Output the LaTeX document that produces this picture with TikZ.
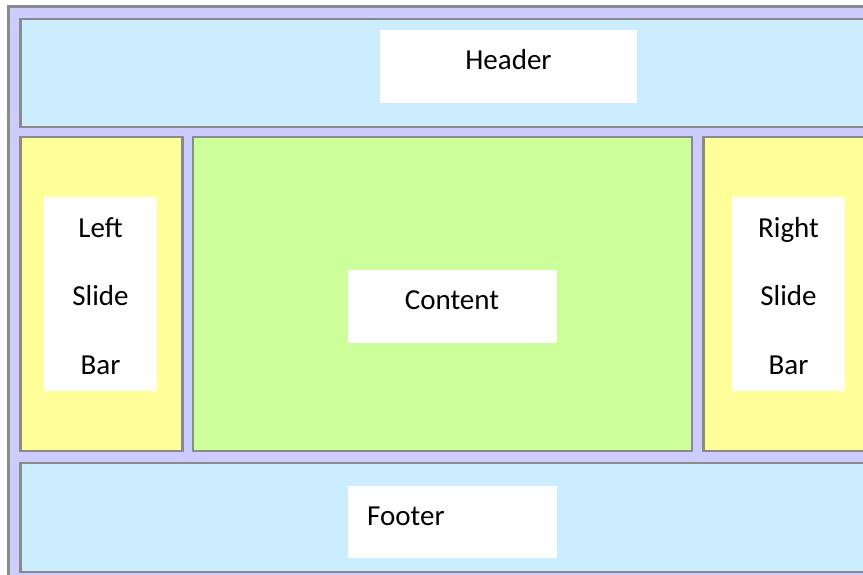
\documentclass[tikz,border=0pt]{standalone}
\usepackage{fontspec}
\setmainfont{Carlito}
\usepackage{tikz}
\usetikzlibrary{positioning}
\pgfdeclarelayer{edgelayer}
\pgfdeclarelayer{nodelayer}
\pgfsetlayers{edgelayer,main,nodelayer}
\definecolor{frame}{HTML}{CCCCFF}
\definecolor{band}{HTML}{CCECFF}
\definecolor{side}{HTML}{FFFF99}
\definecolor{main}{HTML}{CCFF99}
\definecolor{rim}{HTML}{8A8A8A}
\tikzstyle{panel}=[draw=rim,line width=2.2pt,rectangle,anchor=north west,inner sep=0pt,outer sep=0pt]
\tikzstyle{card}=[fill=white,rectangle,anchor=north west,inner sep=0pt,outer sep=0pt]
\tikzstyle{word}=[inner sep=0pt,font=\fontsize{29}{34}\selectfont]

\begin{document}
\begin{tikzpicture}[x=1pt,y=-1pt]
	\useasboundingbox (0,0) rectangle (863,575);
	\clip (0,0) rectangle (863,575);
	\begin{pgfonlayer}{edgelayer}
		\node [style=panel,fill=frame,minimum width=900,minimum height=600] (frame) at (8.5, 6.5) {};
		\node [style=panel,fill=band,minimum width=880,minimum height=108] (header) at (20.5, 18.8) {};
		\node [style=panel,fill=side,minimum width=162,minimum height=314] (left) at (20.5, 137) {};
		\node [style=panel,fill=main,minimum width=499,minimum height=314] (content) at (193, 137) {};
		\node [style=panel,fill=side,minimum width=200,minimum height=314] (right) at (703.5, 137) {};
		\node [style=panel,fill=band,minimum width=880,minimum height=109] (footer) at (20.5, 463) {};
	\end{pgfonlayer}
	\node [style=card,minimum width=257,minimum height=73] (headercard) at (380, 30) {};
	\node [style=card,minimum width=113,minimum height=194] (leftcard) at (44, 197) {};
	\node [style=card,minimum width=209,minimum height=73] (contentcard) at (348, 270) {};
	\node [style=card,minimum width=113,minimum height=194] (rightcard) at (732, 197) {};
	\node [style=card,minimum width=209,minimum height=72] (footercard) at (348, 486) {};
	\begin{pgfonlayer}{nodelayer}
		\node [style=word,anchor=base] (headertext) at (508.5, 70) {Header};
		\node [style=word,anchor=base] (contenttext) at (452, 309.5) {Content};
		\node [style=word,anchor=base west] (footertext) at (367, 525.5) {Footer};
		\foreach \txt/\yb [count=\i] in {Left/237.5, Slide/305.5, Bar/374}
			\node [style=word,anchor=base] (lefttext\i) at (100.5, \yb) {\txt};
		\foreach \txt/\yb [count=\i] in {Right/237.5, Slide/305.5, Bar/374}
			\node [style=word,anchor=base] (righttext\i) at (788.5, \yb) {\txt};
	\end{pgfonlayer}
\end{tikzpicture}
\end{document}
